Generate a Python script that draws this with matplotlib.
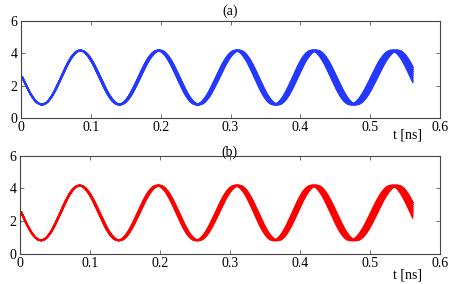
import numpy as np
import matplotlib
matplotlib.use("Agg")
import matplotlib.pyplot as plt

plt.rcParams['font.family'] = ['Liberation Serif', 'DejaVu Serif']
plt.rcParams['font.size'] = 10

# extrema of the oscillation (t in ns); first/last are
# the neighbouring extrema outside the plotted window
ext_t = [-0.026, 0.030, 0.085, 0.141, 0.1975, 0.253, 0.310, 0.365, 0.420, 0.476, 0.535, 0.591]
ext_v = [4.17, 0.83, 4.17, 0.83, 4.17, 0.83, 4.17, 0.83, 4.17, 0.83, 4.17, 0.83]
# half-width of the bundle of traces at each extremum (ns)
ext_spread = [0.0, 0.0003, 0.0008, 0.0013, 0.0019, 0.0024, 0.0030, 0.0035, 0.0041, 0.0046, 0.0050, 0.0054]
t_start = 0.0
t_end = 0.562
n_traces = 15

panels = ['(a)', '(b)']
colors = ['#2438ff', '#ff0000']
xticks = [0, 0.1, 0.2, 0.3, 0.4, 0.5, 0.6]
yticks = [0, 2, 4, 6]


def trace(shift):
    tt = []
    vv = []
    for i in range(len(ext_t) - 1):
        t0 = ext_t[i] + shift * ext_spread[i]
        t1 = ext_t[i + 1] + shift * ext_spread[i + 1]
        s = np.linspace(0, 1, 40)
        tt.append(t0 + (t1 - t0) * s)
        vv.append(ext_v[i] + (ext_v[i + 1] - ext_v[i]) * (1 - np.cos(np.pi * s)) / 2)
    tt = np.concatenate(tt)
    vv = np.concatenate(vv)
    keep = (tt >= t_start) & (tt <= t_end)
    return tt[keep], vv[keep]


fig = plt.figure(figsize=(4.57, 2.84), dpi=100)
boxes = [[0.046, 0.585, 0.917, 0.341], [0.044, 0.106, 0.919, 0.346]]
title_y = [0.962, 0.465]
label_off = [-12.5, -15]

for k in range(2):
    ax = fig.add_axes(boxes[k])
    for shift in np.linspace(-1, 1, n_traces):
        t, v = trace(shift)
        ax.plot(t, v, color=colors[k], lw=1.2, solid_capstyle='butt')
    ax.set_xlim(0, 0.6)
    ax.set_ylim(0, 6)
    ax.set_xticks(xticks)
    ax.set_xticklabels(['0', '0.1', '0.2', '0.3', '0.4', '0.5', '0.6'])
    ax.set_yticks(yticks)
    ax.tick_params(direction='in', length=3, width=0.6, color='#555555',
                   top=True, right=True, pad=2.5, labelsize=10)
    for sp in ax.spines.values():
        sp.set_color('#444444')
        sp.set_linewidth(0.8)
    ax.annotate('t [ns]', xy=(0.553, 0), xycoords=('data', 'axes fraction'),
                xytext=(0, label_off[k]), textcoords='offset points',
                ha='center', va='center', fontsize=10)
    fig.text(0.503, title_y[k], panels[k], ha='center', va='center', fontsize=10)

fig.savefig('out.png', dpi=100)
